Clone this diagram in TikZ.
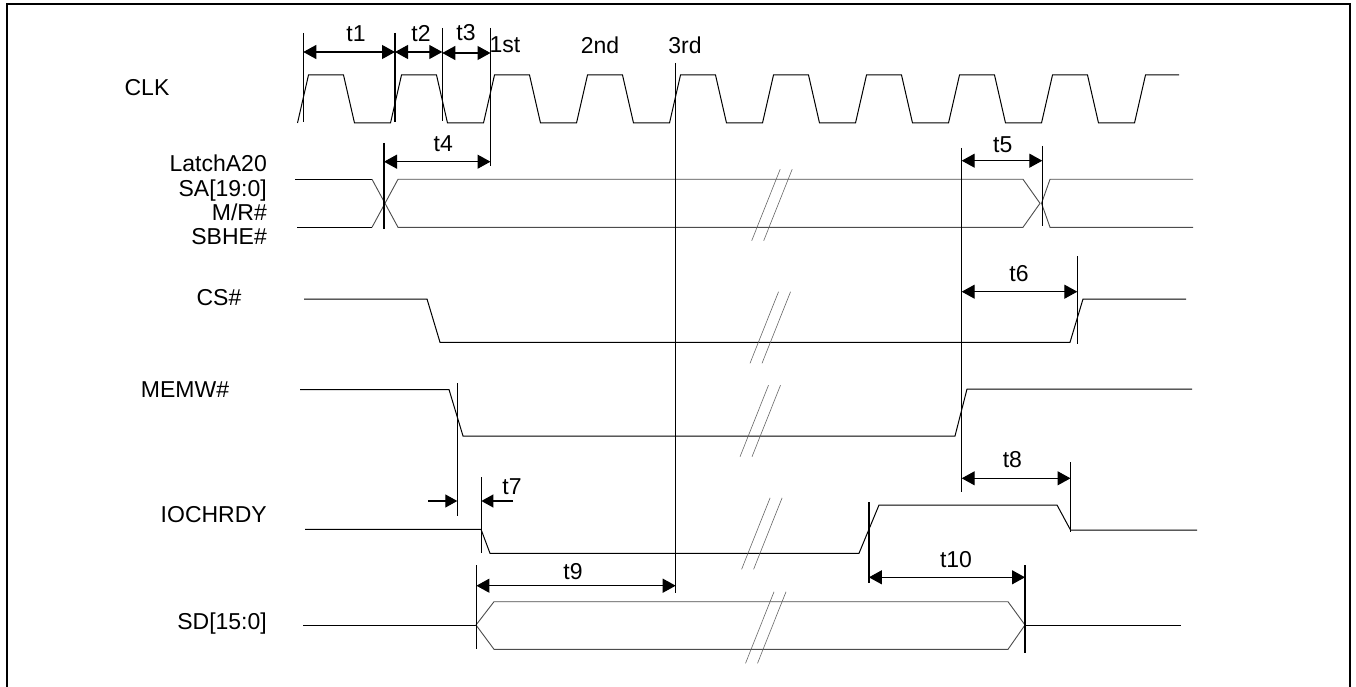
\documentclass[tikz,border=0pt]{standalone}
\usepackage{fontspec}
\setmainfont{Liberation Sans}
\usetikzlibrary{arrows.meta}

\tikzset{
  sig/.style={line width=1pt},
  bus/.style={line width=0.9pt,black!70},
  brk/.style={line width=0.6pt,black!60},
  tline/.style={line width=1.2pt},
  tarr/.style={line width=1.2pt,{Triangle[length=13pt,width=14pt]}-{Triangle[length=13pt,width=14pt]}},
  lbl/.style={font=\fontsize{23}{24.3}\selectfont,inner sep=0pt}
}

\begin{document}
\begin{tikzpicture}[x=1pt,y=-1pt]
          \useasboundingbox (0,0) rectangle (1356,687);
          \draw[line width=2pt] (7,687) -- (7,4.5) -- (1349.5,4.5) -- (1349.5,687);
          % signal names
          \node[lbl] (CLK) at (147,88) {CLK};
          \node[lbl,anchor=east,align=right] (SA) at (267,200) {LatchA20\\SA[19:0]\\M/R\#\\SBHE\#};
          \node[lbl] (CS) at (219,298) {CS\#};
          \node[lbl] (MEMW) at (185,390) {MEMW\#};
          \node[lbl,anchor=east] (IOCHRDY) at (267,515) {IOCHRDY};
          \node[lbl,anchor=east] (SD) at (267,623.3) {SD[15:0]};
          % clock
          \draw[sig] (297.5,123) \foreach \k in {0,...,8} {
            -- ({308.5+93*\k},75) -- ({343.5+93*\k},75) -- ({354.5+93*\k},123) -- ({390.5+93*\k},123)}
            -- (1145.5,75) -- (1179,75);
          \node[lbl] (first) at (505,45) {1st};
          \node[lbl] (second) at (600,45) {2nd};
          \node[lbl] (third) at (685,45) {3rd};
          % address bus
          \draw[sig] (295,179.3) -- (372,179.3);
          \draw[sig] (297,227.3) -- (372,227.3);
          \draw[bus] (372,179.3) -- (398,227.3) -- (1023,227.3) -- (1040,203.3) -- (1023,179.3) -- (398,179.3) -- (372,227.3);
          \draw[bus] (1193,179.3) -- (1050,179.3) -- (1041.5,203.3) -- (1050,227.3) -- (1193,227.3);
          % CS#, MEMW#, IOCHRDY
          \draw[sig] (304,299) -- (427,299) -- (440,342.3) -- (1070,342.3) -- (1083,299) -- (1186,299);
          \draw[sig] (300,389.5) -- (449,389.5) -- (463,436) -- (955,436) -- (967,389) -- (1192,389);
          \draw[sig] (305,529.3) -- (481,529.3) -- (490,553.3) -- (859,553.3) -- (879,505) -- (1057,505) -- (1070.5,530) -- (1197,530);
          % data bus
          \draw[sig] (303,625) -- (476,625);
          \draw[bus] (476,625) -- (494,601.7) -- (1008,601.7) -- (1025,625) -- (1008,649.3) -- (494,649.3) -- cycle;
          \draw[sig] (1025,625) -- (1181,625);
          % breaks
          \foreach \x/\y in {751.7/240.7,750/363.3,740/456.7,741.6/569.3,745.5/663.3} {
            \draw[brk] (\x,\y) -- ++(28.5,-71.5);
            \draw[brk] (\x+12,\y) -- ++(28.5,-71.5);
          }
          % timing lines
          \draw[tline] (303.3,33) -- (303.3,122);
          \draw[tline] (395,33) -- (395,122);
          \draw[tline] (442.3,28) -- (442.3,121);
          \draw[tline] (490.5,28) -- (490.5,166);
          \draw[tline] (675.7,63) -- (675.7,593);
          \draw[tline] (384,143) -- (384,229);
          \draw[tline] (961.7,148) -- (961.7,492);
          \draw[tline] (1042.3,146) -- (1042.3,226);
          \draw[tline] (1077.3,256) -- (1077.3,344);
          \draw[tline] (457.3,383) -- (457.3,516);
          \draw[tline] (481.4,477) -- (481.4,553);
          \draw[tline] (476.4,565) -- (476.4,649.3);
          \draw[tline] (868.9,502) -- (868.9,583);
          \draw[tline] (1025,565) -- (1025,653);
          \draw[tline] (1070.5,462) -- (1070.5,532);
          % dimensions
          \draw[tarr] (303.3,52) -- (395,52);
          \node[lbl] (t1) at (356,34) {t1};
          \draw[tarr] (395,52) -- (442.3,52);
          \node[lbl] (t2) at (421,34) {t2};
          \draw[tarr] (442.3,53) -- (490.5,53);
          \node[lbl] (t3) at (466,33) {t3};
          \draw[tarr] (384,161.7) -- (490.5,161.7);
          \node[lbl] (t4) at (443.3,144) {t4};
          \draw[tarr] (961.7,160.7) -- (1042.3,160.7);
          \node[lbl] (t5) at (1002.7,145) {t5};
          \draw[tarr] (961.7,291.7) -- (1077.3,291.7);
          \node[lbl] (t6) at (1019,274) {t6};
          \draw[tline,-{Triangle[length=12pt,width=13pt]}] (428,501) -- (457.3,501);
          \draw[tline,-{Triangle[length=12pt,width=13pt]}] (513,501) -- (481.4,501);
          \node[lbl] (t7) at (512,486.7) {t7};
          \draw[tarr] (961.7,478.3) -- (1070.5,478.3);
          \node[lbl] (t8) at (1012.4,460) {t8};
          \draw[tarr] (476.4,585.7) -- (675.7,585.7);
          \node[lbl] (t9) at (573,571.7) {t9};
          \draw[tarr] (868.9,577.3) -- (1025,577.3);
          \node[lbl] (t10) at (956,560) {t10};
        \end{tikzpicture}
\end{document}
